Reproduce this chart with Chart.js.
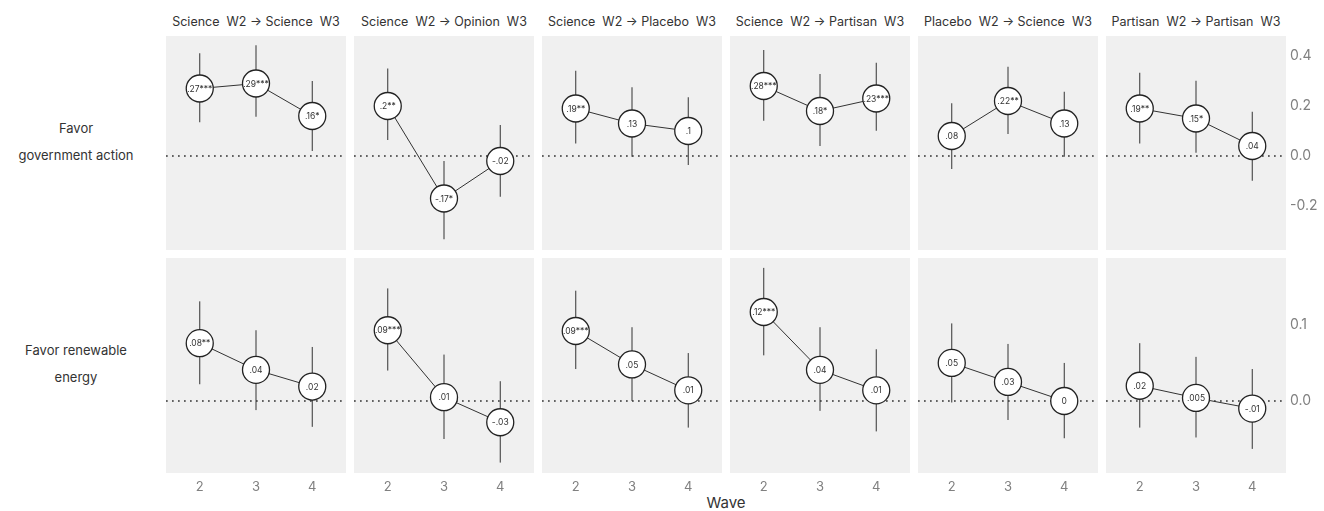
<!DOCTYPE html>
<html>
<head>
<meta charset="utf-8">
<script src="https://cdn.jsdelivr.net/npm/chart.js@4"></script>
<style>
  body { margin: 0; background: #fff; width: 1324px; height: 511px; overflow: hidden; position: relative; font-family: Inter, sans-serif; }
  canvas { position: absolute; }
  .title { position: absolute; top: 15px; width: 180px; text-align: center; font-size: 12.5px; line-height: 13px; color: #333; white-space: pre; }
  .row { position: absolute; left: 0; width: 152px; text-align: center; font-size: 13px; line-height: 27px; color: #333; white-space: pre; }
  .axis { position: absolute; left: 626px; width: 200px; top: 495px; text-align: center; font-size: 15px; line-height: 15px; color: #333; }
</style>
</head>
<body>
<div class="axis">Wave</div>
<script>
console.log("panel chart loaded");

const panelTitles = [
  "Science  W2 \u2192 Science  W3",
  "Science  W2 \u2192 Opinion  W3",
  "Science  W2 \u2192 Placebo  W3",
  "Science  W2 \u2192 Partisan  W3",
  "Placebo  W2 \u2192 Science  W3",
  "Partisan  W2 \u2192 Partisan  W3"
];
const rowLabels = ["Favor\ngovernment action", "Favor renewable\nenergy"];
const waves = [2, 3, 4];

// Favor government action
const govEst = [[0.27, 0.29, 0.16], [0.2, -0.17, -0.02], [0.19, 0.13, 0.10], [0.28, 0.18, 0.23], [0.08, 0.22, 0.13], [0.19, 0.15, 0.04]];
const govLo = [[0.135, 0.157, 0.02], [0.064, -0.333, -0.163], [0.05, -0.003, -0.036], [0.141, 0.04, 0.101], [-0.052, 0.088, -0.003], [0.05, 0.013, -0.099]];
const govHi = [[0.411, 0.443, 0.30], [0.35, -0.02, 0.124], [0.341, 0.275, 0.235], [0.424, 0.328, 0.373], [0.211, 0.357, 0.257], [0.333, 0.301, 0.177]];
const govLabels = [[".27***", ".29***", ".16*"], [".2**", "-.17*", "-.02"], [".19**", ".13", ".1"], [".28***", ".18*", ".23***"], [".08", ".22**", ".13"], [".19**", ".15*", ".04"]];

// Favor renewable energy
const renEst = [[0.076, 0.041, 0.019], [0.093, 0.005, -0.028], [0.092, 0.048, 0.014], [0.117, 0.041, 0.014], [0.050, 0.025, 0.0], [0.020, 0.004, -0.010]];
const renLo = [[0.022, -0.012, -0.034], [0.040, -0.050, -0.081], [0.042, 0.0, -0.035], [0.060, -0.013, -0.040], [-0.002, -0.025, -0.049], [-0.035, -0.048, -0.063]];
const renHi = [[0.131, 0.093, 0.071], [0.148, 0.061, 0.026], [0.145, 0.097, 0.063], [0.175, 0.097, 0.068], [0.102, 0.075, 0.050], [0.076, 0.058, 0.042]];
const renLabels = [[".08**", ".04", ".02"], [".09***", ".01", "-.03"], [".09***", ".05", ".01"], [".12***", ".04", ".01"], [".05", ".03", "0"], [".02", ".005", "-.01"]];

const yRange = [[-0.376, 0.48], [-0.0947, 0.188]];
const yTicks = [[-0.2, 0, 0.2, 0.4], [0, 0.1]];
const xRange = [1.4, 4.6];

const rows = [
  { est: govEst, lo: govLo, hi: govHi, labels: govLabels },
  { est: renEst, lo: renLo, hi: renHi, labels: renLabels }
];

const panelBg = {
  id: "panelBg",
  beforeDraw(chart) {
    const a = chart.chartArea, ctx = chart.ctx;
    ctx.save();
    ctx.fillStyle = "#f0f0f0";
    ctx.fillRect(a.left, a.top, a.right - a.left, a.bottom - a.top);
    ctx.restore();
  }
};

const pointText = {
  id: "pointText",
  afterDatasetsDraw(chart) {
    const ctx = chart.ctx;
    const meta = chart.getDatasetMeta(0);
    const labels = chart.options.plugins.pointText.labels;
    ctx.save();
    ctx.font = "8.5px Inter";
    ctx.fillStyle = "#333";
    ctx.textAlign = "center";
    ctx.textBaseline = "middle";
    meta.data.forEach((el, i) => ctx.fillText(labels[i], el.x, el.y + 0.5));
    ctx.restore();
  }
};

function addText(cls, text, left, top) {
  const d = document.createElement("div");
  d.className = cls;
  d.textContent = text;
  d.style.left = left + "px";
  d.style.top = top + "px";
  document.body.appendChild(d);
}

panelTitles.forEach((t, c) => addText("title", t, 166 + 188 * c, 15));
addText("row", rowLabels[0], 0, 115);
addText("row", rowLabels[1], 0, 337);

rows.forEach((row, r) => {
  panelTitles.forEach((t, c) => {
    const lastCol = c === panelTitles.length - 1;
    const bottomRow = r === 1;
    const canvas = document.createElement("canvas");
    const w = 180 + (lastCol ? 40 : 0);
    const h = (r === 0 ? 214 : 215) + (bottomRow ? 26 : 0);
    canvas.width = w;
    canvas.height = h;
    canvas.style.width = w + "px";
    canvas.style.height = h + "px";
    canvas.style.left = (166 + 188 * c) + "px";
    canvas.style.top = (r === 0 ? 36 : 258) + "px";
    document.body.appendChild(canvas);

    const series = waves.map((x, i) => ({ x: x, y: row.est[c][i] }));
    const bars = waves.map((x, i) => ({
      type: "line",
      data: [{ x: x, y: row.lo[c][i] }, { x: x, y: row.hi[c][i] }],
      borderColor: "#333",
      borderWidth: 1,
      pointRadius: 0,
      order: 2
    }));

    new Chart(canvas.getContext("2d"), {
      type: "line",
      data: {
        datasets: [
          {
            data: series,
            borderColor: "#333",
            borderWidth: 1,
            pointRadius: 13.5,
            pointBorderWidth: 1.3,
            pointBorderColor: "#222",
            pointBackgroundColor: "#fff",
            order: 0
          },
          {
            data: [{ x: xRange[0], y: 0 }, { x: xRange[1], y: 0 }],
            borderColor: "#333",
            borderWidth: 1.7,
            borderDash: [1.7, 4.3],
            pointRadius: 0,
            order: 3
          },
          ...bars
        ]
      },
      options: {
        responsive: false,
        animation: false,
        events: [],
        layout: { padding: 0, autoPadding: false },
        plugins: {
          legend: { display: false },
          tooltip: { enabled: false },
          pointText: { labels: row.labels[c] }
        },
        scales: {
          x: {
            type: "linear",
            min: xRange[0],
            max: xRange[1],
            display: bottomRow,
            grid: { display: false, drawTicks: false },
            border: { display: false },
            afterBuildTicks: (s) => { s.ticks = waves.map(v => ({ value: v })); },
            afterFit: (s) => { s.height = bottomRow ? 26 : 0; s.paddingLeft = 0; s.paddingRight = 0; },
            ticks: { padding: 6, color: "#808080", font: { family: "Inter", size: 13 } }
          },
          y: {
            type: "linear",
            position: "right",
            min: yRange[r][0],
            max: yRange[r][1],
            display: lastCol,
            grid: { display: false, drawTicks: false },
            border: { display: false },
            afterBuildTicks: (s) => { s.ticks = yTicks[r].map(v => ({ value: v })); },
            afterFit: (s) => { s.width = lastCol ? 40 : 0; s.paddingTop = 0; s.paddingBottom = 0; },
            ticks: {
              padding: 4,
              color: "#808080",
              font: { family: "Inter", size: 14 },
              callback: (v) => v.toFixed(1)
            }
          }
        }
      },
      plugins: [panelBg, pointText]
    });
  });
});
</script>
</body>
</html>
